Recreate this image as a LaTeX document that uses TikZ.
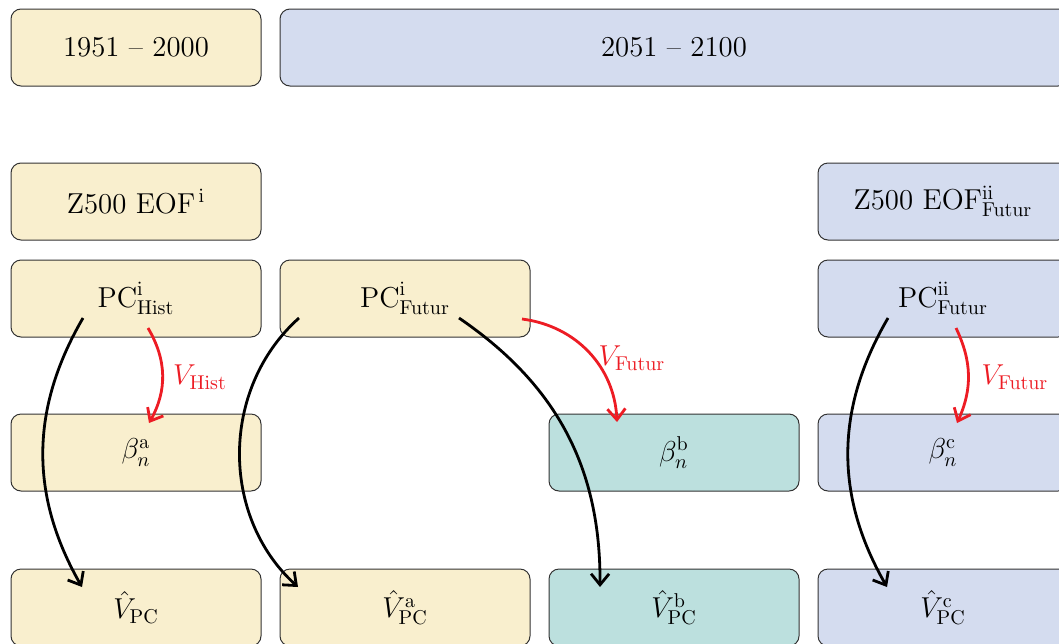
\documentclass[tikz,border=0pt]{standalone}
\usetikzlibrary{arrows.meta,calc}

\definecolor{histyel}{RGB}{249,239,206}
\definecolor{futblue}{RGB}{212,220,239}
\definecolor{futteal}{RGB}{188,224,222}
\definecolor{arrred}{RGB}{237,28,36}

\begin{document}
\begin{tikzpicture}[x=0.5pt,y=-0.5pt,
    cell/.style={draw=black!80, line width=0.5pt, rounded corners=5pt,
      minimum width=125pt, minimum height=38.5pt, font=\Large, inner sep=0pt},
    flow/.style={line width=1.4pt, -{Straight Barb[length=5.5pt,width=9pt]}},
    regr/.style={flow, arrred},
    lab/.style={font=\Large, text=arrred}]
  \useasboundingbox (0,0) rectangle (1059,643);

  %–– Periodi ––
  \node[cell, fill=histyel] (perH) at (136,47.5) {1951 -- 2000};
  \node[cell, fill=futblue, minimum width=394pt] (perF) at (674,47.5) {2051 -- 2100};

  %–– EOF ––
  \node[cell, fill=histyel] (eofH) at (136,201.5) {Z500 EOF$^{\,\mathrm{i}}$};
  \node[cell, fill=futblue] (eofF) at (943,201.5) {Z500 EOF$^{\mathrm{ii}}_{\mathrm{Futur}}$};

  %–– PC ––
  \node[cell, fill=histyel] (pcH) at (136,298.5) {$\mathrm{PC}^{\mathrm{i}}_{\mathrm{Hist}}$};
  \node[cell, fill=histyel] (pcF) at (405,298.5) {$\mathrm{PC}^{\mathrm{i}}_{\mathrm{Futur}}$};
  \node[cell, fill=futblue] (pcFF) at (943,298.5) {$\mathrm{PC}^{\mathrm{ii}}_{\mathrm{Futur}}$};

  %–– Coefficienti ––
  \node[cell, fill=histyel] (betaA) at (136,452.5) {$\beta_n^{\mathrm{a}}$};
  \node[cell, fill=futteal] (betaB) at (674,452.5) {$\beta_n^{\mathrm{b}}$};
  \node[cell, fill=futblue] (betaC) at (943,452.5) {$\beta_n^{\mathrm{c}}$};

  %–– Ricostruzioni ––
  \node[cell, fill=histyel] (vpc) at (136,607.5) {$\hat{V}_{\mathrm{PC}}$};
  \node[cell, fill=histyel] (vpcA) at (405,607.5) {$\hat{V}^{\mathrm{a}}_{\mathrm{PC}}$};
  \node[cell, fill=futteal] (vpcB) at (674,607.5) {$\hat{V}^{\mathrm{b}}_{\mathrm{PC}}$};
  \node[cell, fill=futblue] (vpcC) at (943,607.5) {$\hat{V}^{\mathrm{c}}_{\mathrm{PC}}$};

  %–– Frecce nere ––
  \draw[flow] ([shift={(-53,19.5)}]pcH.center) to[bend right=30]
    ([shift={(-54,-20.5)}]vpc.center);
  \draw[flow] ([shift={(-106,19.5)}]pcF.center) to[bend right=48]
    ([shift={(-107,-20.5)}]vpcA.center);
  \draw[flow] ([shift={(54,19.5)}]pcF.center) to[bend left=28]
    ([shift={(-74,-20.5)}]vpcB.center);
  \draw[flow] ([shift={(-55,19.5)}]pcFF.center) to[bend right=30]
    ([shift={(-56,-20.5)}]vpcC.center);

  %–– Frecce rosse ––
  \draw[regr] ([shift={(12,29.5)}]pcH.center) to[bend left=30]
    ([shift={(13,-29.5)}]betaA.center);
  \draw[regr] ([shift={(117,20.5)}]pcF.center) to[bend left=40]
    ([shift={(-57,-30.5)}]betaB.center);
  \draw[regr] ([shift={(13,29.5)}]pcFF.center) to[bend left=25]
    ([shift={(14,-29.5)}]betaC.center);

  %–– Etichette ––
  \node[lab] (labH) at (200,377) {$V_{\mathrm{Hist}}$};
  \node[lab] (labF) at (632,358) {$V_{\mathrm{Futur}}$};
  \node[lab] (labFF) at (1015,377) {$V_{\mathrm{Futur}}$};
\end{tikzpicture}
\end{document}
